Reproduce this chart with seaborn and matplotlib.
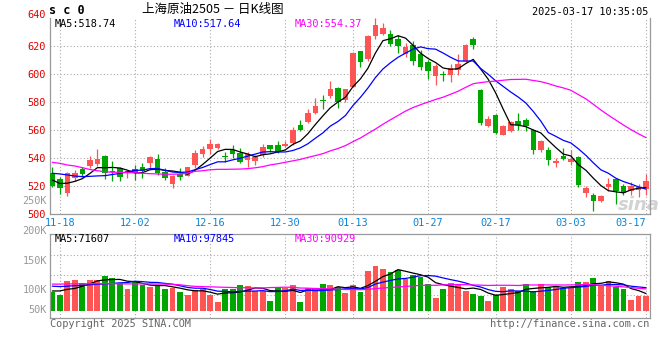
import numpy as np
import pandas as pd
import seaborn as sns
import matplotlib.pyplot as plt

# Daily K-line of SC2505, 2024-11-15 .. 2025-03-17
open_ = [529.5, 525.0, 515.2, 526.0, 531.9, 534.5, 535.5, 541.4, 531.0, 532.9,
         529.1, 532.1, 533.6, 536.6, 539.5, 530.2, 521.4, 528.8, 527.2, 535.1,
         542.7, 546.5, 547.5, 541.2, 545.7, 543.3, 538.6, 538.1, 542.1, 549.1,
         549.1, 548.7, 550.6, 563.7, 566.0, 572.0, 581.2, 584.2, 590.3, 581.5,
         591.0, 616.5, 611.0, 626.9, 628.8, 628.8, 625.2, 614.5, 620.5, 614.3,
         608.6, 598.4, 599.7, 599.5, 603.1, 609.1, 625.2, 588.8, 563.1, 570.9,
         556.6, 559.5, 566.6, 567.4, 560.0, 545.5, 545.7, 536.6, 541.4, 537.2,
         540.9, 514.8, 513.6, 509.5, 519.1, 524.8, 520.0, 516.6, 517.1, 517.9]
high = [533.8, 526.7, 530.2, 531.4, 533.6, 541.4, 546.4, 542.1, 537.9, 533.3,
        531.4, 535.2, 536.2, 541.6, 542.6, 532.9, 528.2, 532.8, 533.8, 545.7,
        548.5, 553.7, 550.9, 544.1, 549.3, 546.9, 544.5, 542.1, 550.0, 549.3,
        552.4, 552.4, 562.2, 567.2, 575.0, 582.8, 585.1, 595.1, 590.8, 589.6,
        615.4, 616.5, 628.1, 639.8, 636.4, 631.6, 628.1, 622.1, 623.3, 616.9,
        610.2, 607.1, 602.4, 607.1, 614.3, 621.6, 626.2, 589.5, 570.2, 571.4,
        563.8, 566.2, 572.1, 568.6, 560.8, 553.2, 547.6, 539.8, 546.9, 545.4,
        541.4, 520.0, 515.2, 513.6, 525.5, 525.5, 521.4, 523.1, 521.4, 528.6]
low = [519.5, 514.3, 512.9, 523.6, 526.6, 532.6, 534.5, 525.0, 523.8, 523.8,
       525.9, 524.3, 526.0, 533.1, 528.1, 524.3, 518.8, 524.3, 526.8, 532.8,
       540.7, 543.1, 546.4, 537.1, 539.8, 536.2, 533.8, 535.0, 540.9, 544.5,
       543.4, 547.6, 549.3, 559.5, 564.8, 571.4, 575.1, 582.7, 576.0, 580.3,
       590.5, 605.3, 609.0, 625.0, 627.6, 619.8, 615.0, 612.0, 606.6, 603.1,
       596.6, 592.4, 594.8, 594.0, 599.5, 608.5, 618.1, 563.8, 562.0, 557.4,
       556.2, 558.8, 560.2, 559.5, 542.9, 544.3, 535.0, 533.8, 538.3, 535.3,
       519.5, 511.9, 502.4, 508.8, 516.6, 507.1, 513.6, 513.6, 511.9, 513.6]
close = [520.0, 518.8, 529.3, 529.3, 528.8, 538.6, 539.5, 529.1, 530.3, 526.7,
         530.9, 529.1, 530.7, 540.7, 529.1, 525.9, 527.2, 526.4, 533.3, 543.3,
         546.5, 550.0, 550.1, 541.0, 542.9, 537.4, 542.9, 540.5, 547.9, 546.2,
         544.1, 550.1, 560.3, 560.0, 572.0, 577.2, 581.0, 589.3, 580.3, 589.0,
         615.1, 608.9, 627.4, 634.8, 633.0, 621.6, 619.8, 619.0, 609.1, 605.0,
         602.4, 605.5, 599.5, 604.3, 607.1, 620.5, 620.9, 565.0, 567.9, 557.9,
         562.6, 565.5, 563.4, 562.6, 546.0, 552.1, 538.6, 538.0, 539.2, 539.5,
         520.7, 518.8, 509.5, 512.9, 521.4, 516.6, 515.2, 520.0, 519.1, 523.6]
volume_k = [83.6, 69, 130.7, 135, 120.5, 135, 135, 152.7, 142.6, 123,
            95.5, 126, 113, 105.6, 113, 95.5, 98.4, 83.6, 69, 91,
            95.5, 69, 39.6, 95.5, 95.5, 113, 108.7, 88, 88, 44,
            105.6, 98.4, 113, 39.6, 101, 94, 117.5, 113, 103, 79,
            113, 83.6, 174.7, 196.7, 183.5, 170.3, 179, 138, 157, 147,
            117.5, 57, 95.5, 123, 117.5, 88, 73.5, 66, 44, 69,
            103, 95.5, 86.7, 117.5, 86.7, 117.5, 106, 106, 98, 98,
            126, 126, 143.7, 108.7, 130.7, 105.6, 95.5, 47, 64.7, 64.7]

tick_pos = [1, 11, 21, 31, 40, 50, 59, 69, 79]
tick_labels = ["11-18", "12-02", "12-16", "12-30", "01-13", "01-27", "02-17", "03-03", "03-17"]

# moving averages before a full window exists
ma5_head = [524.3, 521.8, 522.0, 523.3]
ma10_head = [529.1, 528.6, 527.9, 527.1, 526.7, 526.9, 527.2, 527.4, 528.2]
ma30_head = [536.9, 536.2, 535.0, 534.3, 533.1, 531.8, 530.9, 530.2, 529.8, 529.8,
             529.5, 529.5, 529.1, 528.8, 528.6, 528.4, 528.4, 528.6, 529.1, 530.5,
             530.9, 531.6, 531.9, 531.9, 532.0, 532.1, 532.4, 533.0, 533.8]
vma5_head = [86.7, 87.0, 94.0, 98.0]
vma10_head = [108, 106, 108, 110, 112, 114, 116, 118, 120]
vma30_head = [117, 117, 118, 118, 118, 119, 119, 119, 119, 118,
              118, 118, 118, 118, 117, 117, 116, 114, 110, 107,
              106, 105, 104, 103, 102, 101, 101, 100, 100]

RED = "#ff5454"
GREEN = "#00a600"
GRID = "#aaaaaa"
FRAME = "#999999"

sns.set_style("white")
plt.rcParams["font.family"] = ["DejaVu Sans Mono", "Noto Sans CJK SC"]

df = pd.DataFrame({"idx": np.arange(len(close)), "open": open_, "high": high,
                   "low": low, "close": close, "vol": volume_k})
df["dir"] = np.where(df["close"] >= df["open"], "up", "down")
colors = np.where(df["dir"] == "up", RED, GREEN)


def rolling_with_head(values, window, head):
    ma = pd.Series(values, dtype=float).rolling(window).mean()
    ma.iloc[:window - 1] = head
    return ma


df["ma5"] = rolling_with_head(close, 5, ma5_head)
df["ma10"] = rolling_with_head(close, 10, ma10_head)
df["ma30"] = rolling_with_head(close, 30, ma30_head)
df["vma5"] = rolling_with_head(volume_k, 5, vma5_head)
df["vma10"] = rolling_with_head(volume_k, 10, vma10_head)
df["vma30"] = rolling_with_head(volume_k, 30, vma30_head)

W, H = 660, 360
fig = plt.figure(figsize=(W / 100, H / 100), dpi=100)
ax = fig.add_axes([50 / W, 1 - 214 / H, 600 / W, 196 / H])
axv = fig.add_axes([50 / W, 1 - 318 / H, 600 / W, 84 / H])
XLIM = (-0.306, 79.53)


def ftext(x, y, s, **kw):
    fig.text(x / W, 1 - y / H, s, **kw)


# ---- price panel
ax.text(78.0, 506.5, "sina", fontsize=13, fontweight="bold", style="italic",
        color="#d2d2d2", ha="center", va="center", family="DejaVu Sans", zorder=0)
ax.vlines(df["idx"], df["low"], df["high"], colors=colors, linewidth=0.9, zorder=2)
body_low = np.minimum(df["open"], df["close"])
body_h = np.maximum((df["close"] - df["open"]).abs(), 0.7)
ax.bar(df["idx"], body_h, bottom=body_low, width=0.74, color=colors, linewidth=0, zorder=3)
sns.lineplot(data=df, x="idx", y="ma5", color="black", linewidth=0.9, ax=ax, zorder=4)
sns.lineplot(data=df, x="idx", y="ma10", color="#0000ff", linewidth=0.9, ax=ax, zorder=4)
sns.lineplot(data=df, x="idx", y="ma30", color="#ff00ff", linewidth=0.9, ax=ax, zorder=4)

ax.set_xlim(*XLIM)
ax.set_ylim(500, 640)
ax.set_yticks(range(500, 621, 20))
ax.set_xticks(tick_pos, tick_labels)
ax.set_xlabel("")
ax.set_ylabel("")
ax.tick_params(axis="y", length=0, pad=3, labelsize=7.4, labelcolor="#e00000")
ax.tick_params(axis="x", length=0, pad=3, labelsize=7.4, labelcolor="#0a84d8")
ax.get_xticklabels()[-1].set_horizontalalignment("right")
ax.grid(True, linestyle=(0, (1, 2)), color=GRID, linewidth=0.8)
ax.spines["top"].set_visible(False)
for side in ["left", "right", "bottom"]:
    ax.spines[side].set_color(FRAME)
    ax.spines[side].set_linewidth(0.9)

# ---- volume panel
sns.barplot(data=df, x="idx", y="vol", hue="dir", palette={"up": RED, "down": GREEN},
            native_scale=True, dodge=False, width=0.78, errorbar=None, saturation=1,
            linewidth=0, legend=False, ax=axv, zorder=2)
sns.lineplot(data=df, x="idx", y="vma5", color="black", linewidth=0.9, ax=axv, zorder=4)
sns.lineplot(data=df, x="idx", y="vma10", color="#0000ff", linewidth=0.9, ax=axv, zorder=4)
sns.lineplot(data=df, x="idx", y="vma30", color="#ff00ff", linewidth=0.9, ax=axv, zorder=4)
axv.set_xlim(*XLIM)
axv.set_ylim(-32.1, 337.5)
axv.set_yticks([69, 157, 245])
axv.set_yticklabels([])
axv.set_xticks(tick_pos)
axv.set_xticklabels([])
axv.set_xlabel("")
axv.set_ylabel("")
axv.tick_params(length=0)
axv.grid(True, linestyle=(0, (1, 2)), color=GRID, linewidth=0.8)
for side in ["left", "right", "bottom", "top"]:
    axv.spines[side].set_color(FRAME)
    axv.spines[side].set_linewidth(0.9)

# ---- texts
mono = dict(fontsize=7.4, va="center")
ftext(46, 15, "640", color="#e00000", ha="right", **mono)
ftext(47, 201, "250K", color="#999999", ha="right", **mono)
for y, s in [(231, "200K"), (261, "150K"), (290, "100K"), (310, "50K")]:
    ftext(47, y, s, color="#999999", ha="right", **mono)

ftext(49, 11, "s c 0", fontsize=8.5, fontweight="bold", color="black", va="center", ha="left")
ftext(142, 9.5, "上海原油2505 － 日K线图", fontsize=9, color="black", va="center", ha="left",
      family=["Noto Sans CJK SC", "DejaVu Sans"])
ftext(648, 12, "2025-03-17 10:35:05", color="black", ha="right", **mono)

ftext(55, 24, "MA5:518.74", color="black", ha="left", **mono)
ftext(174, 24, "MA10:517.64", color="#0000ff", ha="left", **mono)
ftext(295, 24, "MA30:554.37", color="#ff00ff", ha="left", **mono)
ftext(55, 239, "MA5:71607", color="black", ha="left", **mono)
ftext(174, 239, "MA10:97845", color="#0000ff", ha="left", **mono)
ftext(295, 239, "MA30:90929", color="#ff00ff", ha="left", **mono)

ftext(50, 324, "Copyright 2025 SINA.COM", color="#666666", ha="left", **mono)
ftext(649, 324, "http://finance.sina.com.cn", color="#666666", ha="right", **mono)

fig.savefig("out.png", dpi=100)
